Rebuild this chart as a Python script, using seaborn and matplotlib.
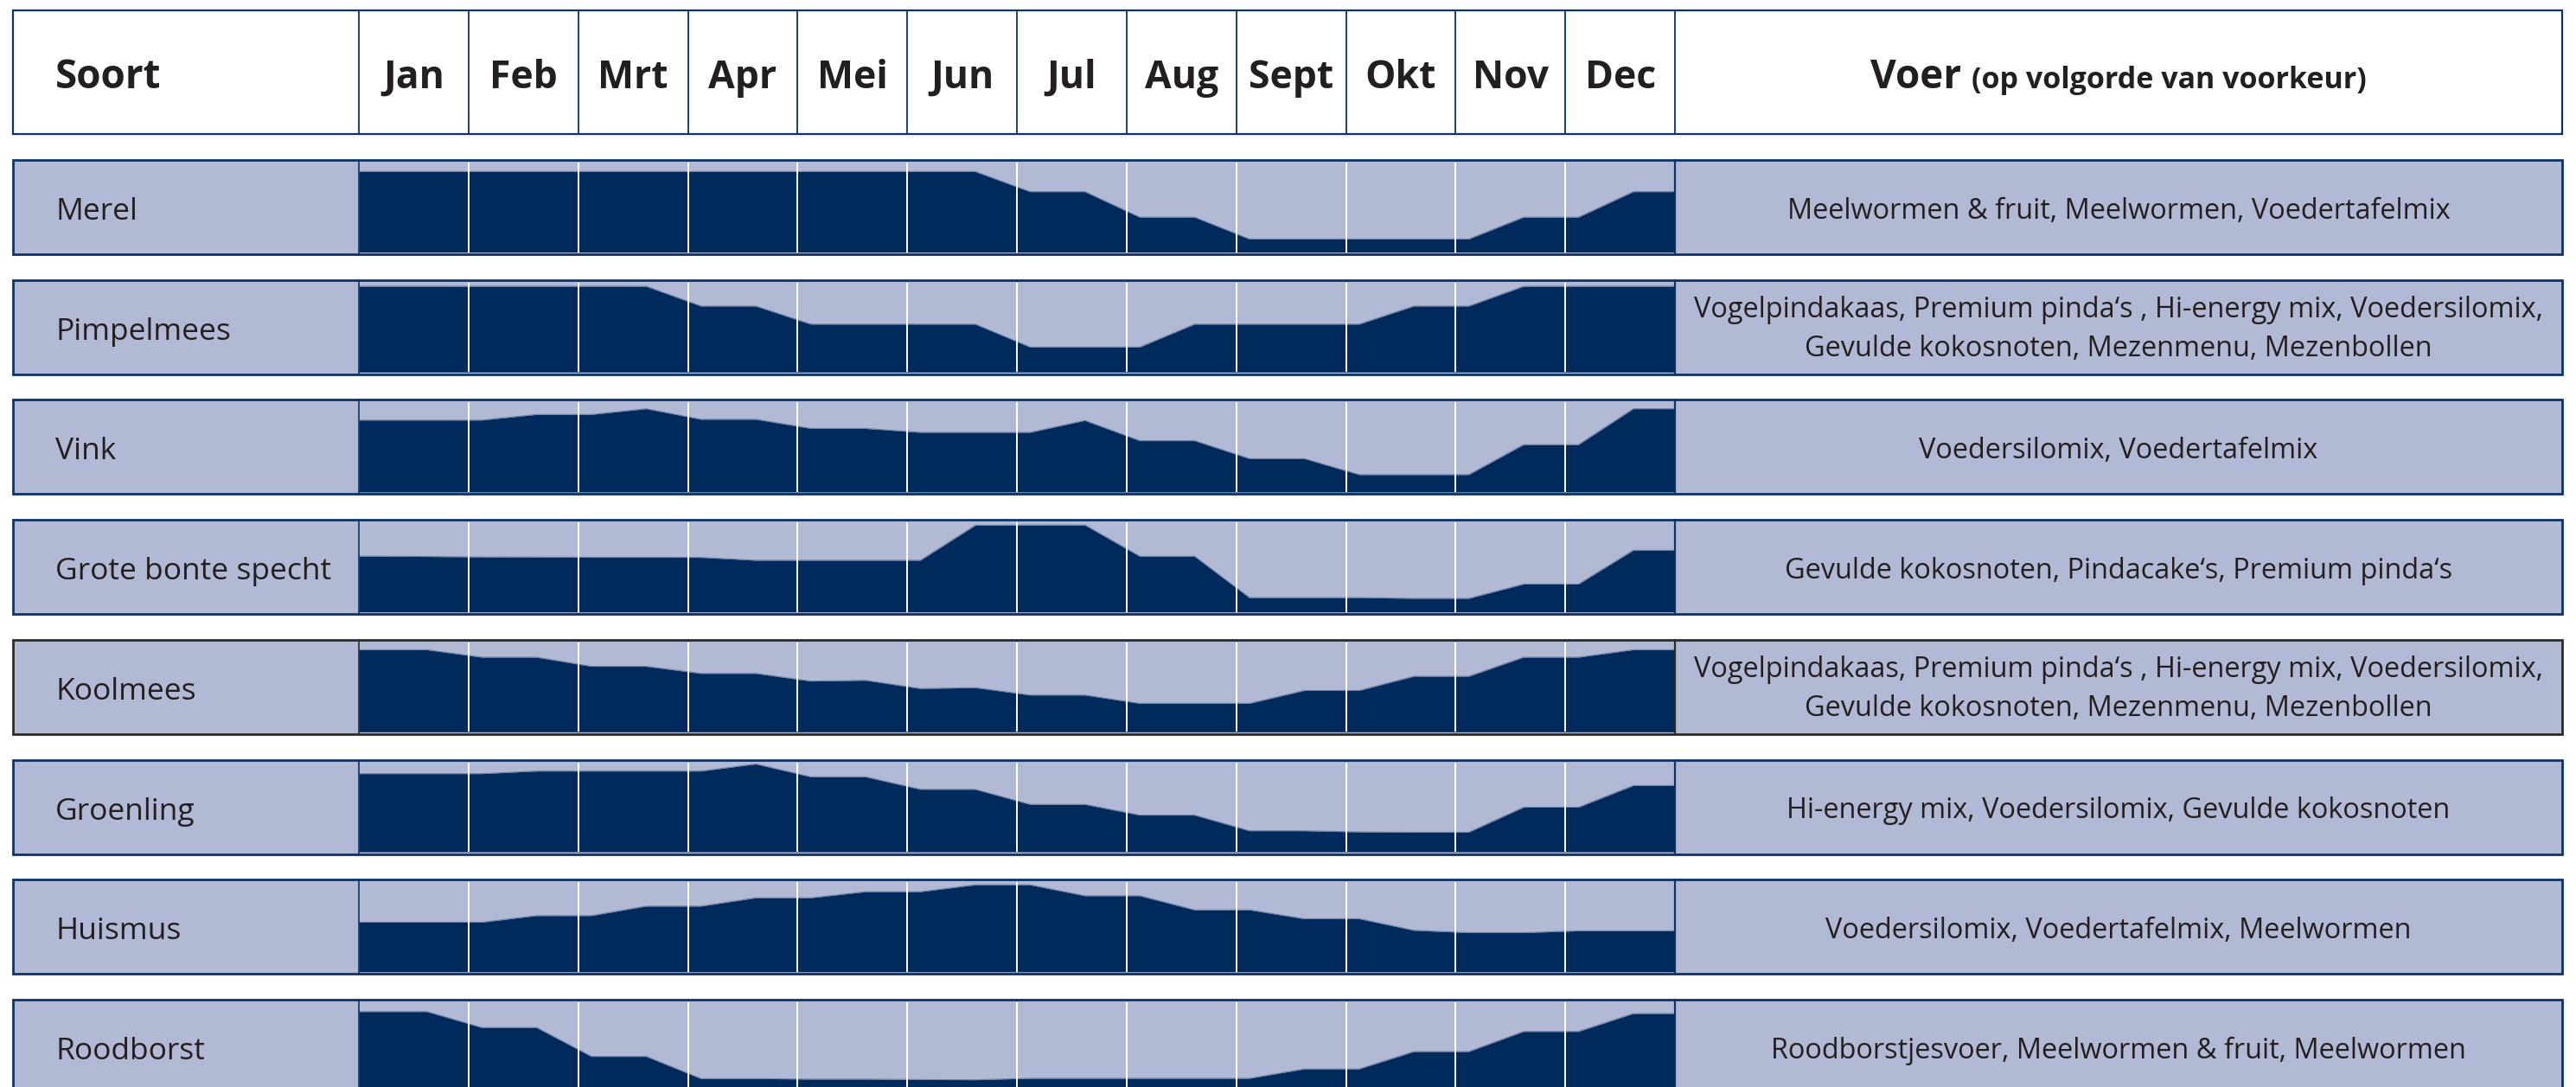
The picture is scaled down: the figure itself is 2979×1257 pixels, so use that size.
import numpy as np
import matplotlib
matplotlib.use("Agg")
import matplotlib.pyplot as plt
from matplotlib.patches import Rectangle
from matplotlib.lines import Line2D
import seaborn as sns

# Maanden en soorten
months = ['Jan', 'Feb', 'Mrt', 'Apr', 'Mei', 'Jun', 'Jul', 'Aug', 'Sept', 'Okt', 'Nov', 'Dec']
species = ['Merel', 'Pimpelmees', 'Vink', 'Grote bonte specht',
           'Koolmees', 'Groenling', 'Huismus', 'Roodborst']

# Aanwezigheid in de tuin, per halve maand (begin / eind van elke maand), 0..1
merel = [.90, .90, .90, .90, .90, .90, .90, .90, .90, .90, .90, .90,
         .675, .675, .39, .39, .146, .146, .146, .146, .146, .39, .39, .675]
pimpelmees = [.958, .958, .958, .958, .958, .958, .737, .737, .535, .535, .535, .535,
              .279, .279, .279, .535, .535, .535, .535, .737, .737, .958, .958, .958]
vink = [.803, .803, .803, .866, .866, .93, .812, .812, .71, .71, .666, .666,
        .666, .799, .573, .573, .373, .373, .194, .194, .194, .529, .529, .93]
grote_bonte_specht = [.623, .619, .614, .613, .611, .61, .609, .577, .577, .577, .577, .968,
                      .97, .971, .622, .622, .16, .16, .16, .151, .151, .311, .311, .689]
koolmees = [.917, .917, .834, .834, .732, .732, .653, .653, .567, .576, .484, .494,
            .411, .411, .318, .318, .318, .462, .462, .621, .621, .834, .834, .917]
groenling = [.873, .873, .873, .902, .902, .902, .902, .981, .838, .838, .698, .698,
             .53, .53, .41, .41, .235, .235, .222, .219, .219, .498, .498, .74]
huismus = [.553, .553, .553, .627, .627, .733, .733, .826, .826, .894, .894, .971,
           .971, .849, .849, .691, .691, .592, .592, .463, .437, .437, .457, .457]
roodborst = [.895, .895, .717, .717, .394, .394, .146, .146, .14, .14, .135, .133,
             .149, .149, .149, .149, .149, .254, .254, .448, .448, .673, .673, .873]

voer = [
    'Meelwormen & fruit, Meelwormen, Voedertafelmix',
    'Vogelpindakaas, Premium pinda\u2018s , Hi-energy mix, Voedersilomix,\nGevulde kokosnoten, Mezenmenu, Mezenbollen',
    'Voedersilomix, Voedertafelmix',
    'Gevulde kokosnoten, Pindacake\u2018s, Premium pinda\u2018s',
    'Vogelpindakaas, Premium pinda\u2018s , Hi-energy mix, Voedersilomix,\nGevulde kokosnoten, Mezenmenu, Mezenbollen',
    'Hi-energy mix, Voedersilomix, Gevulde kokosnoten',
    'Voedersilomix, Voedertafelmix, Meelwormen',
    'Roodborstjesvoer, Meelwormen & fruit, Meelwormen',
]

profiles = [merel, pimpelmees, vink, grote_bonte_specht,
            koolmees, groenling, huismus, roodborst]

# kleuren
NAVY = '#002a5c'
LIGHT = '#b1b9d4'
BORDER = '#0c3266'
GREY_BORDER = '#2b2b2b'
TEXT = '#231f20'

sns.set_theme(style='white')
plt.rcParams['font.family'] = ['Open Sans', 'DejaVu Sans']

W, H = 2979, 1257
fig = plt.figure(figsize=(W / 100, H / 100), dpi=100)
fig.patch.set_facecolor('white')

# layout in pixels
LEFT, RIGHT = 15, 2963
LABEL_R, MONTH_R = 415, 1937
HEAD_TOP, HEAD_BOT = 12, 155
ROW_TOP0, ROW_STEP, ROW_H = 185, 138.7, 109
INNER = 3
FOOD_FS = 23.4


def fx(x):
    return x / W


def fy(y):
    return 1 - y / H


def frect(x0, y0, x1, y1, **kw):
    r = Rectangle((fx(x0), fy(y1)), fx(x1) - fx(x0), fy(y0) - fy(y1),
                  transform=fig.transFigure, figure=fig, **kw)
    fig.patches.append(r)
    return r


def vline(x, y0, y1, color, lw):
    fig.lines.append(Line2D([fx(x), fx(x)], [fy(y0), fy(y1)], transform=fig.transFigure,
                            figure=fig, color=color, lw=lw, zorder=5))


month_w = (MONTH_R - LABEL_R) / len(months)

# ---- kop ----
frect(LEFT, HEAD_TOP, RIGHT, HEAD_BOT, facecolor='white', edgecolor=BORDER, lw=1.6, zorder=1)
for i in range(len(months) + 1):
    vline(LABEL_R + i * month_w, HEAD_TOP, HEAD_BOT, BORDER, 1.3)
fig.text(fx(64), fy(102), 'Soort', fontsize=33, fontweight='bold', color=TEXT, va='baseline')
for i, m in enumerate(months):
    fig.text(fx(LABEL_R + (i + 0.5) * month_w), fy(102), m, fontsize=32, fontweight='bold',
             color=TEXT, ha='center', va='baseline')
voer_x = (MONTH_R + RIGHT) / 2
t1 = fig.text(fx(voer_x), fy(102), 'Voer ', fontsize=33, fontweight='bold', color=TEXT,
              ha='left', va='baseline')
t2 = fig.text(0, fy(102), '(op volgorde van voorkeur)', fontsize=24.5, fontweight='bold',
              color=TEXT, ha='left', va='baseline')
# centreren van de twee tekstdelen
renderer = fig.canvas.get_renderer()
w1 = t1.get_window_extent(renderer).width
w2 = t2.get_window_extent(renderer).width
start = voer_x - (w1 + w2) / 2
t1.set_x(fx(start))
t2.set_x(fx(start + w1))

# x-posities van de halve-maand waarden (begin en eind van elke maand)
half_x = np.repeat(np.arange(len(months)), 2) + np.tile([0.12, 0.62], len(months))
xs = np.concatenate([[0], half_x, [len(months)]])

for r, (name, prof, food) in enumerate(zip(species, profiles, voer)):
    top = ROW_TOP0 + r * ROW_STEP
    bot = top + ROW_H
    edge = GREY_BORDER if name == 'Koolmees' else BORDER

    # achtergrond labels / voer
    frect(LEFT, top, RIGHT, bot, facecolor=LIGHT, edgecolor='none', lw=0, zorder=0.5)

    ax = fig.add_axes([fx(LABEL_R), fy(bot - INNER + 0.5), fx(MONTH_R) - fx(LABEL_R),
                       fy(top + INNER) - fy(bot - INNER + 0.5)])
    ax.set_zorder(2)
    ax.set_facecolor(LIGHT)
    ys = np.concatenate([[prof[0]], prof, [prof[-1]]])
    ax.fill_between(xs, 0, ys, color=NAVY, lw=0, zorder=1)
    sns.lineplot(x=xs, y=ys, ax=ax, color='#6f7fa3', lw=0.8, zorder=2, estimator=None, sort=False)
    for i in range(1, len(months)):
        ax.axvline(i, color='white', lw=1.4, zorder=3)
    ax.set_xlim(0, len(months))
    ax.set_ylim(0, 1)
    ax.set_xticks([])
    ax.set_yticks([])
    ax.set_xlabel('')
    ax.set_ylabel('')
    for s in ax.spines.values():
        s.set_visible(False)

    # randen
    frect(LEFT, top, RIGHT, bot, facecolor='none', edgecolor=edge, lw=2.0, zorder=6)
    vline(LABEL_R, top, bot, edge, 1.2)
    vline(MONTH_R, top, bot, edge, 1.6)

    fig.text(fx(64), fy(top + 69), name, fontsize=25.5, color=TEXT, va='baseline', zorder=7)
    lines = food.split('\n')
    if len(lines) == 1:
        fig.text(fx(voer_x), fy(top + 68), lines[0], fontsize=FOOD_FS, color=TEXT,
                 ha='center', va='baseline', zorder=7)
    else:
        fig.text(fx(voer_x), fy(top + 43), lines[0], fontsize=FOOD_FS, color=TEXT,
                 ha='center', va='baseline', zorder=7)
        fig.text(fx(voer_x), fy(top + 88), lines[1], fontsize=FOOD_FS, color=TEXT,
                 ha='center', va='baseline', zorder=7)

fig.savefig('out.png', dpi=100, facecolor='white')
